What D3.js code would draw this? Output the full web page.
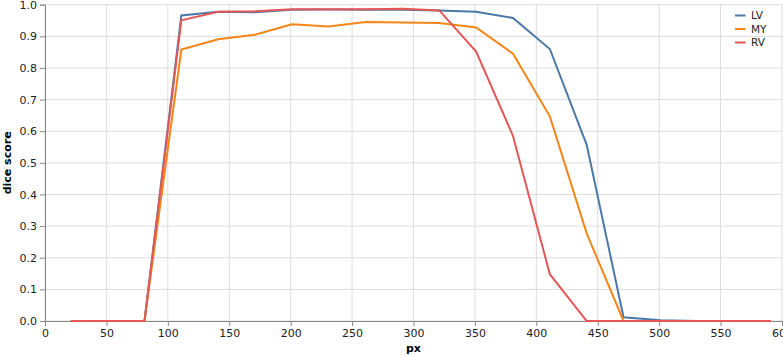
<!DOCTYPE html>
<html>
<head>
<meta charset="utf-8">
<script src="https://cdn.jsdelivr.net/npm/d3@7"></script>
<style>
  body { margin: 0; background: #fff; }
  svg { display: block; font-family: "DejaVu Sans", sans-serif; }
</style>
</head>
<body>
<div id="chart"></div>
<script>
// sample positions along x (px)
const pxValues = [21, 51, 81, 111, 141, 171, 201, 231, 261, 291, 321, 351, 381, 411, 441, 471, 501, 531, 561, 591];

const seriesNames = ["LV", "MY", "RV"];
const lvScores = [0, 0, 0, 0.966, 0.978, 0.976, 0.984, 0.985, 0.984, 0.984, 0.982, 0.978, 0.958, 0.86, 0.557, 0.012, 0.002, 0, 0, 0];
const myScores = [0, 0, 0, 0.858, 0.891, 0.905, 0.938, 0.931, 0.945, 0.944, 0.942, 0.928, 0.845, 0.647, 0.277, 0, 0, 0, 0, 0];
const rvScores = [0, 0, 0, 0.951, 0.978, 0.979, 0.986, 0.986, 0.986, 0.987, 0.982, 0.852, 0.585, 0.148, 0, 0, 0, 0, 0, 0];

const xTicks = [0, 50, 100, 150, 200, 250, 300, 350, 400, 450, 500, 550, 600];
const yTicks = [0, 0.1, 0.2, 0.3, 0.4, 0.5, 0.6, 0.7, 0.8, 0.9, 1.0];

const colors = ["#4c78a8", "#f58518", "#e45756"];

const width = 783, height = 356;
const margin = {top: 4.7, right: 1, bottom: 35, left: 45};

const svg = d3.select("#chart").append("svg")
    .attr("width", width)
    .attr("height", height);

const x = d3.scaleLinear().domain([0, 600]).range([margin.left, width - margin.right]);
const y = d3.scaleLinear().domain([0, 1]).range([height - margin.bottom, margin.top]);

// grid
const grid = svg.append("g").attr("class", "grid");
grid.selectAll("line.gx").data(xTicks).enter().append("line")
    .attr("x1", d => x(d)).attr("x2", d => x(d))
    .attr("y1", y(0)).attr("y2", y(1))
    .attr("stroke", "#ddd").attr("stroke-width", 1);
grid.selectAll("line.gy").data(yTicks).enter().append("line")
    .attr("x1", x(0)).attr("x2", x(600))
    .attr("y1", d => y(d)).attr("y2", d => y(d))
    .attr("stroke", "#ddd").attr("stroke-width", 1);

// axes
const xAxis = svg.append("g")
    .attr("transform", "translate(0," + y(0) + ")")
    .call(d3.axisBottom(x).tickValues(xTicks).tickSize(5).tickPadding(3).tickFormat(d3.format("d")));
const yAxis = svg.append("g")
    .attr("transform", "translate(" + x(0) + ",0)")
    .call(d3.axisLeft(y).tickValues(yTicks).tickSize(5).tickPadding(3).tickFormat(d3.format(".1f")));

[xAxis, yAxis].forEach(a => {
    a.select(".domain").attr("stroke", "#888");
    a.selectAll(".tick line").attr("stroke", "#888");
    a.selectAll(".tick text").attr("fill", "#222").style("font-size", "11px").style("font-family", "DejaVu Sans");
});

// titles
svg.append("text")
    .attr("x", (x(0) + x(600)) / 2)
    .attr("y", 352)
    .attr("text-anchor", "middle")
    .style("font-size", "11px")
    .style("font-weight", "bold")
    .attr("fill", "#000")
    .text("px");

svg.append("text")
    .attr("transform", "translate(11," + (y(0) + y(1)) / 2 + ") rotate(-90)")
    .attr("text-anchor", "middle")
    .style("font-size", "11px")
    .style("font-weight", "bold")
    .attr("fill", "#000")
    .text("dice score");

// lines
const allSeries = [lvScores, myScores, rvScores];
const line = d3.line()
    .x((d, i) => x(pxValues[i]))
    .y(d => y(d));

svg.append("g").selectAll("path").data(allSeries).enter().append("path")
    .attr("d", d => line(d))
    .attr("fill", "none")
    .attr("stroke", (d, i) => colors[i])
    .attr("stroke-width", 2)
    .attr("stroke-linejoin", "miter");

// legend
const legend = svg.append("g").attr("transform", "translate(735,15.5)");
const items = legend.selectAll("g").data(seriesNames).enter().append("g")
    .attr("transform", (d, i) => "translate(0," + i * 13.5 + ")");
items.append("line")
    .attr("x1", 0).attr("x2", 10.5)
    .attr("y1", 0).attr("y2", 0)
    .attr("stroke", (d, i) => colors[i])
    .attr("stroke-width", 2);
items.append("text")
    .attr("x", 16)
    .attr("y", 0)
    .attr("dy", "0.35em")
    .style("font-size", "10.5px")
    .attr("fill", "#222")
    .text(d => d);
</script>
</body>
</html>
